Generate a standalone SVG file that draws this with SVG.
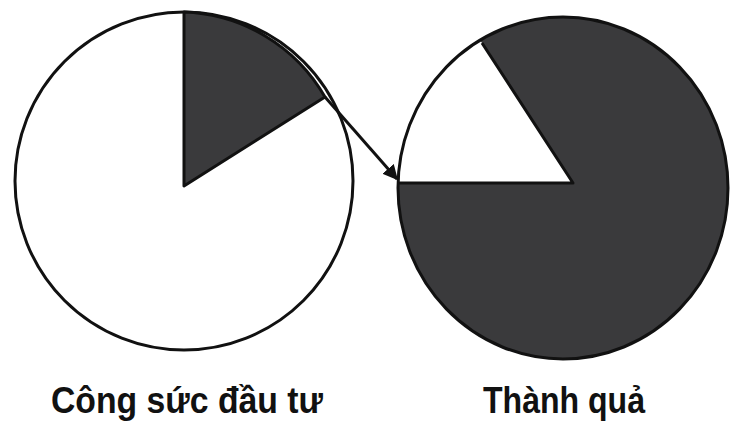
<svg xmlns="http://www.w3.org/2000/svg" width="731" height="425" viewBox="0 0 731 425">
  <defs>
    <style>
      .edge { stroke: #111; stroke-width: 3; fill: none; stroke-linejoin: round; }
      .outline { fill: none; stroke: #111; stroke-width: 3; }
      .dark { fill: #3a3a3c; stroke: #111; stroke-width: 3; stroke-linejoin: round; }
      .light { fill: #fff; stroke: #111; stroke-width: 3; stroke-linejoin: round; }
      .label { font-family: "Liberation Sans Narrow", "Liberation Sans", Arial, sans-serif; font-size: 37px; font-weight: bold; fill: #111; }
    </style>
    <marker id="arrow" viewBox="0 0 10 10" refX="9" refY="5" markerWidth="5" markerHeight="5" orient="auto" markerUnits="strokeWidth">
      <path d="M0,0 L10,5 L0,10 Z" fill="#111"/>
    </marker>
    <clipPath id="rightClip">
      <ellipse cx="563" cy="188" rx="165" ry="171"/>
    </clipPath>
  </defs>
  <rect width="731" height="425" fill="#fff"/>

  <g id="effort-pie">
    <circle class="light" cx="184" cy="181" r="169"/>
    <path class="dark" d="M184,186 L184,12 A169,169 0 0,1 325,97 Z"/>
  </g>

  <g id="result-pie">
    <ellipse cx="563" cy="188" rx="165" ry="171" fill="#3a3a3c"/>
    <polygon points="573,183 350,183 350,-60 415,-60" fill="#fff" clip-path="url(#rightClip)"/>
    <polyline class="edge" points="398,183 573,183 482,43"/>
    <ellipse class="outline" cx="563" cy="188" rx="165" ry="171"/>
  </g>

  <g id="connectors">
    <line class="edge" x1="325" y1="97" x2="397" y2="179" marker-end="url(#arrow)"/>
  </g>

  <g id="label-effort">
    <text class="label" x="51" y="413" textLength="272" lengthAdjust="spacingAndGlyphs">Công sức đầu tư</text>
  </g>
  <g id="label-result">
    <text class="label" x="483" y="413" textLength="162" lengthAdjust="spacingAndGlyphs">Thành quả</text>
  </g>
</svg>
